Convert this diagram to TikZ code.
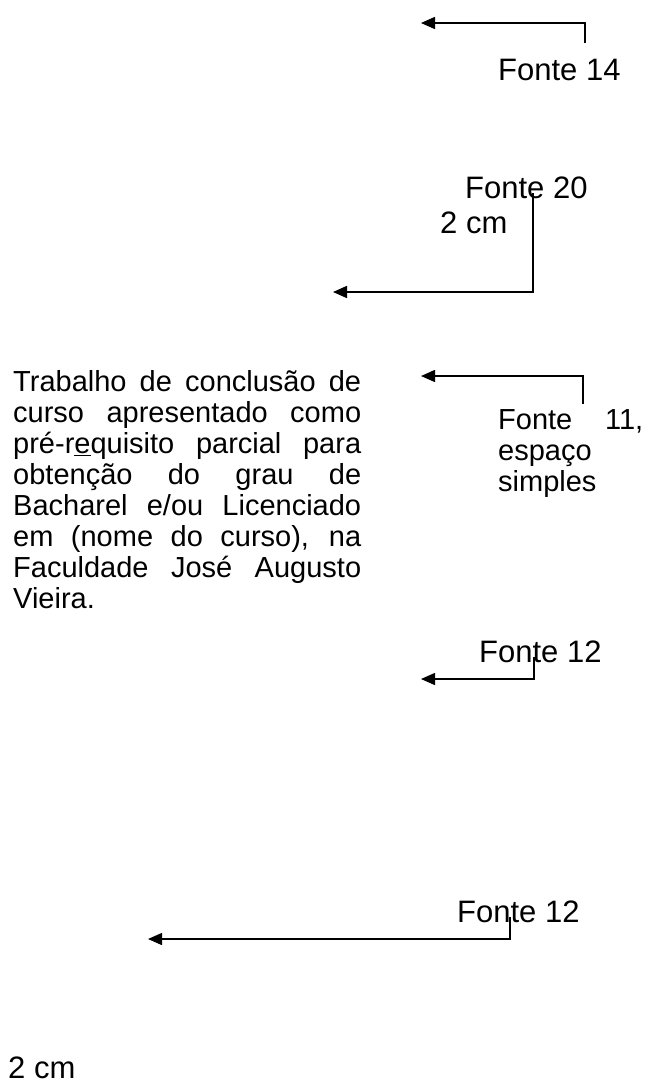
\documentclass[tikz,border=0pt]{standalone}
\usepackage{fontspec}
\setmainfont{Liberation Sans}
\usetikzlibrary{arrows.meta}
\tikzset{
  rotulo/.style={anchor=base west, inner sep=0pt, font=\fontsize{31}{35}\selectfont},
  bloco/.style={anchor=north west, inner sep=0pt, align=left},
  seta/.style={line width=1.5pt, -{Triangle[length=14pt,width=12pt]}},
}
\newcommand{\jline}[2]{\makebox[#1][s]{#2}}

\begin{document}
\begin{tikzpicture}[x=1pt,y=-1pt]
\useasboundingbox (0,0) rectangle (662,1084);
% Fonte 14
\node[rotulo] (f14) at (498,80) {Fonte 14};
\coordinate (s14) at (585,43);
\coordinate (e14) at (421,23);
\draw[seta] (s14) |- (e14);
% Fonte 20 / 2 cm
\node[rotulo] (f20) at (465,198) {Fonte 20};
\node[rotulo] (cm1) at (440,233) {2 cm};
\coordinate (s20) at (533,193);
\coordinate (e20) at (333,292);
\draw[seta] (s20) |- (e20);
% resumo
\node[bloco, font=\fontsize{29}{31}\selectfont] (resumo) at (13,370.5) {%
\jline{348pt}{Trabalho de conclusão de}\\
\jline{348pt}{curso apresentado como}\\
\jline{348pt}{pré-r\underline{e}quisito parcial para}\\
\jline{348pt}{obtenção do grau de}\\
\jline{348pt}{Bacharel e/ou Licenciado}\\
\jline{348pt}{em (nome do curso), na}\\
\jline{348pt}{Faculdade José Augusto}\\
Vieira.};
\node[bloco, font=\fontsize{29}{31}\selectfont] (f11) at (498,409.5) {%
\jline{145pt}{Fonte 11,}\\
espaço\\
simples};
\coordinate (s11) at (583,404);
\coordinate (e11) at (421,376);
\draw[seta] (s11) |- (e11);
% Fonte 12 (1)
\node[rotulo] (f12a) at (479,662) {Fonte 12};
\coordinate (s12a) at (534,657);
\coordinate (e12a) at (421,679);
\draw[seta] (s12a) |- (e12a);
% Fonte 12 (2)
\node[rotulo] (f12b) at (457,922) {Fonte 12};
\coordinate (s12b) at (510,917);
\coordinate (e12b) at (148,939);
\draw[seta] (s12b) |- (e12b);
% 2 cm
\node[rotulo] (cm2) at (8,1078) {2 cm};
\end{tikzpicture}
\end{document}
